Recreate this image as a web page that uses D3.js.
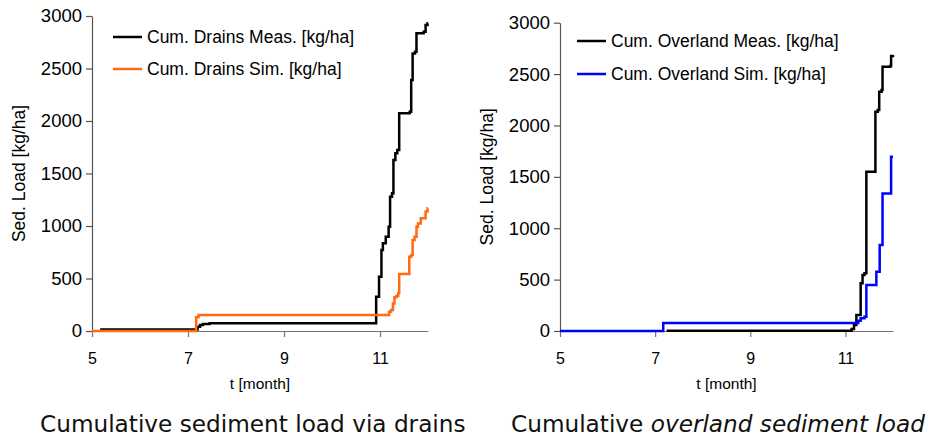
<!DOCTYPE html>
<html>
<head>
<meta charset="utf-8">
<script src="https://cdn.jsdelivr.net/npm/d3@7/dist/d3.min.js"></script>
<style>
  html, body { margin: 0; padding: 0; background: #fff; }
  svg { display: block; }
  .tick text { font-family: "Liberation Sans", Arial, sans-serif; fill: #000; }
</style>
</head>
<body>
<svg id="chart" width="933" height="436"></svg>
<script>
// Month ticks and load ticks shared by both panels
const monthTicks = [5, 7, 9, 11];
const loadTicks = [0, 500, 1000, 1500, 2000, 2500, 3000];

// Cumulative sediment load via drains: step points (month, kg/ha held from that month on)
const drainsMeasMonth = [5.17, 7.20, 7.25, 7.31, 7.45, 10.92, 10.98, 11.03, 11.06, 11.12, 11.18, 11.21, 11.25, 11.28, 11.32, 11.36, 11.40, 11.62, 11.65, 11.68, 11.73, 11.76, 11.91, 11.95, 11.99, 12.0];
const drainsMeasLoad  = [15, 41, 57, 67, 75, 327, 517, 771, 835, 898, 993, 1279, 1311, 1629, 1692, 1724, 2073, 2089, 2390, 2644, 2660, 2835, 2851, 2914, 2930, 2930];
const drainsSimMonth  = [5.0, 7.17, 7.22, 11.19, 11.23, 11.27, 11.30, 11.34, 11.38, 11.40, 11.61, 11.65, 11.68, 11.72, 11.76, 11.79, 11.85, 11.95, 11.99, 12.0];
const drainsSimLoad   = [0, 130, 152, 184, 200, 263, 321, 333, 359, 543, 708, 724, 867, 898, 993, 1025, 1073, 1137, 1168, 1168];

// Cumulative overland sediment load
const overMeasMonth = [7.24, 11.13, 11.18, 11.23, 11.32, 11.36, 11.40, 11.44, 11.63, 11.68, 11.71, 11.76, 11.78, 11.94, 11.96, 12.0];
const overMeasLoad  = [3, 20, 58, 156, 464, 545, 561, 1550, 2134, 2150, 2328, 2344, 2571, 2578, 2675, 2685];
const overSimMonth  = [5.0, 7.17, 11.27, 11.32, 11.40, 11.44, 11.65, 11.72, 11.78, 11.96, 12.0];
const overSimLoad   = [0, 78, 100, 123, 139, 447, 577, 837, 1339, 1696, 1696];

const panels = [
  {
    x0: 92, x1: 428, yTop: 16, yBottom: 331,
    caption: [{ text: "Cumulative sediment load via drains", italic: false }],
    captionX: 40,
    series: [
      { name: "Cum. Drains Meas. [kg/ha]", month: drainsMeasMonth, load: drainsMeasLoad, color: "#000000" },
      { name: "Cum. Drains Sim. [kg/ha]",  month: drainsSimMonth,  load: drainsSimLoad,  color: "#ff6a13" }
    ],
    legendX: 113, legendY: [37, 69]
  },
  {
    x0: 560, x1: 893, yTop: 22.7, yBottom: 331,
    caption: [{ text: "Cumulative ", italic: false }, { text: "overland sediment load", italic: true }],
    captionX: 511,
    series: [
      { name: "Cum. Overland Meas. [kg/ha]", month: overMeasMonth, load: overMeasLoad, color: "#000000" },
      { name: "Cum. Overland Sim. [kg/ha]",  month: overSimMonth,  load: overSimLoad,  color: "#0000ff" }
    ],
    legendX: 577, legendY: [41, 74]
  }
];

const svg = d3.select("#chart");
const intFormat = d3.format("d");

panels.forEach(p => {
  const x = d3.scaleLinear().domain([5, 12]).range([p.x0, p.x1]);
  const y = d3.scaleLinear().domain([0, 3000]).range([p.yBottom, p.yTop]);
  const g = svg.append("g");

  // y axis
  const ya = g.append("g")
    .attr("transform", `translate(${p.x0},0)`)
    .call(d3.axisLeft(y).tickValues(loadTicks).tickFormat(intFormat)
      .tickSize(6).tickPadding(4).tickSizeOuter(0));
  ya.select(".domain").attr("stroke", "#555").attr("stroke-width", 1.2);
  ya.selectAll(".tick line").attr("stroke", "#555").attr("stroke-width", 1.2);
  ya.selectAll(".tick text").attr("font-size", 18.5);

  // x axis
  const xa = g.append("g")
    .attr("transform", `translate(0,${p.yBottom})`)
    .call(d3.axisBottom(x).tickValues(monthTicks).tickFormat(intFormat)
      .tickSize(6).tickPadding(16).tickSizeOuter(0));
  xa.select(".domain").attr("stroke", "#777").attr("stroke-width", 1.2);
  xa.selectAll(".tick line").attr("stroke", "#777").attr("stroke-width", 1.2);
  xa.selectAll(".tick text").attr("font-size", 16);

  // axis titles
  g.append("text")
    .attr("x", (p.x0 + p.x1) / 2).attr("y", 389)
    .attr("text-anchor", "middle")
    .attr("font-family", "Liberation Sans, Arial, sans-serif")
    .attr("font-size", 15.5)
    .text("t [month]");

  g.append("text")
    .attr("transform", `translate(${p.x0 - 67},${(p.yTop + p.yBottom) / 2}) rotate(-90)`)
    .attr("text-anchor", "middle")
    .attr("font-family", "Liberation Sans, Arial, sans-serif")
    .attr("font-size", 17.5)
    .text("Sed. Load [kg/ha]");

  // step lines
  const line = d3.line()
    .x(d => x(d[0]))
    .y(d => y(d[1]))
    .curve(d3.curveStepAfter);

  p.series.forEach(s => {
    const pts = s.month.map((m, i) => [m, s.load[i]]);
    g.append("path")
      .datum(pts)
      .attr("fill", "none")
      .attr("stroke", s.color)
      .attr("stroke-width", 2.5)
      .attr("stroke-linejoin", "miter")
      .attr("d", line);
  });

  // legend
  p.series.forEach((s, i) => {
    const ly = p.legendY[i];
    g.append("line")
      .attr("x1", p.legendX).attr("x2", p.legendX + 29)
      .attr("y1", ly).attr("y2", ly)
      .attr("stroke", s.color).attr("stroke-width", 2.5);
    g.append("text")
      .attr("x", p.legendX + 34).attr("y", ly + 6)
      .attr("font-family", "Liberation Sans, Arial, sans-serif")
      .attr("font-size", 17.5)
      .text(s.name);
  });

  // caption
  const cap = svg.append("text")
    .attr("x", p.captionX).attr("y", 432)
    .attr("font-family", "DejaVu Sans, Verdana, sans-serif")
    .attr("font-size", 23.2)
    .attr("fill", "#111");
  p.caption.forEach(c => {
    cap.append("tspan")
      .attr("font-style", c.italic ? "italic" : "normal")
      .text(c.text);
  });
});
</script>
</body>
</html>
